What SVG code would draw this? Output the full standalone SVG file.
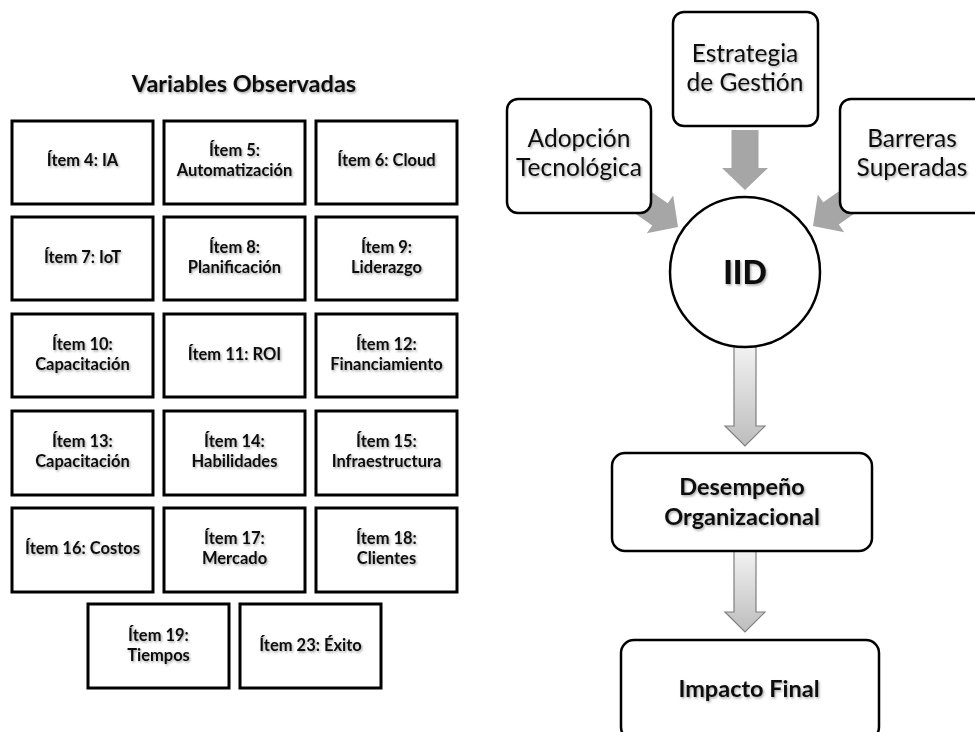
<svg xmlns="http://www.w3.org/2000/svg" width="975" height="732" viewBox="0 0 975 732">
<defs>
<filter id="sh" x="-10%" y="-30%" width="130%" height="180%">
<feDropShadow dx="1.2" dy="1.5" stdDeviation="1" flood-color="#000" flood-opacity="0.35"/>
</filter>
<linearGradient id="g" x1="0" y1="0" x2="0" y2="1">
<stop offset="0" stop-color="#f2f2f2"/>
<stop offset="1" stop-color="#bdbdbd"/>
</linearGradient>
<polygon id="fat" points="-60,-13.5 -22,-13.5 -22,-23 0,0 -22,23 -22,13.5 -60,13.5"/>
</defs>
<style>
text{font-family:Lato,"Open Sans","Liberation Sans",sans-serif;text-anchor:middle;fill:#111;filter:url(#sh)}
.item rect{fill:#fff;stroke:#000;stroke-width:3}
.item text{font-size:16.5px;font-weight:700}
.rb rect{fill:#fff;stroke:#000;stroke-width:2.5}
.reg{font-size:24.5px;font-weight:400}
.bold{font-size:23.5px;font-weight:700}
.gray{fill:#a6a6a6}
.grad{fill:url(#g);stroke:#7f7f7f;stroke-width:1.2}
</style>
<rect width="975" height="732" fill="#fff"/>

<text x="244" y="92" style="font-size:23.5px;font-weight:700">Variables Observadas</text>

<g id="connectors">
<use href="#fat" class="gray" transform="translate(745,190) rotate(90)"/>
<use href="#fat" class="gray" transform="translate(678,227) rotate(35)"/>
<use href="#fat" class="gray" transform="translate(813,226) rotate(145)"/>
<path class="grad" d="M734,346 H756 V426 H765 L745,446 L725,426 H734 Z"/>
<path class="grad" d="M734,551 H756 V612 H765 L745,632 L725,612 H734 Z"/>
</g>

<g id="item4" class="item"><rect x="12" y="121" width="141" height="83"/><text x="82.5" y="166">Ítem 4: IA</text></g>
<g id="item5" class="item"><rect x="164" y="121" width="141" height="83"/><text x="234.5" y="156">Ítem 5:</text><text x="234.5" y="176">Automatización</text></g>
<g id="item6" class="item"><rect x="316" y="121" width="141" height="83"/><text x="386.5" y="166">Ítem 6: Cloud</text></g>

<g id="item7" class="item"><rect x="12" y="217" width="141" height="83"/><text x="82.5" y="263">Ítem 7: IoT</text></g>
<g id="item8" class="item"><rect x="164" y="217" width="141" height="83"/><text x="234.5" y="253">Ítem 8:</text><text x="234.5" y="273">Planificación</text></g>
<g id="item9" class="item"><rect x="316" y="217" width="141" height="83"/><text x="386.5" y="253">Ítem 9:</text><text x="386.5" y="273">Liderazgo</text></g>

<g id="item10" class="item"><rect x="12" y="314" width="141" height="83"/><text x="82.5" y="350">Ítem 10:</text><text x="82.5" y="370">Capacitación</text></g>
<g id="item11" class="item"><rect x="164" y="314" width="141" height="83"/><text x="234.5" y="360">Ítem 11: ROI</text></g>
<g id="item12" class="item"><rect x="316" y="314" width="141" height="83"/><text x="386.5" y="350">Ítem 12:</text><text x="386.5" y="370">Financiamiento</text></g>

<g id="item13" class="item"><rect x="12" y="411" width="141" height="84"/><text x="82.5" y="447">Ítem 13:</text><text x="82.5" y="467">Capacitación</text></g>
<g id="item14" class="item"><rect x="164" y="411" width="141" height="84"/><text x="234.5" y="447">Ítem 14:</text><text x="234.5" y="467">Habilidades</text></g>
<g id="item15" class="item"><rect x="316" y="411" width="141" height="84"/><text x="386.5" y="447">Ítem 15:</text><text x="386.5" y="467">Infraestructura</text></g>

<g id="item16" class="item"><rect x="12" y="508" width="141" height="84"/><text x="82.5" y="554">Ítem 16: Costos</text></g>
<g id="item17" class="item"><rect x="164" y="508" width="141" height="84"/><text x="234.5" y="544">Ítem 17:</text><text x="234.5" y="564">Mercado</text></g>
<g id="item18" class="item"><rect x="316" y="508" width="141" height="84"/><text x="386.5" y="544">Ítem 18:</text><text x="386.5" y="564">Clientes</text></g>

<g id="item19" class="item"><rect x="88" y="604" width="141" height="84"/><text x="158.5" y="641">Ítem 19:</text><text x="158.5" y="661">Tiempos</text></g>
<g id="item23" class="item"><rect x="240" y="604" width="141" height="84"/><text x="310.5" y="651">Ítem 23: Éxito</text></g>

<g id="estrategia" class="rb"><rect x="673" y="12" width="145" height="114" rx="11"/><text class="reg" x="745" y="62">Estrategia</text><text class="reg" x="745" y="91">de Gestión</text></g>
<g id="adopcion" class="rb"><rect x="507" y="99" width="144" height="114" rx="11"/><text class="reg" x="579" y="147">Adopción</text><text class="reg" x="579" y="176">Tecnológica</text></g>
<g id="barreras" class="rb"><rect x="840" y="99" width="146" height="114" rx="11"/><text class="reg" x="912" y="147">Barreras</text><text class="reg" x="912" y="176">Superadas</text></g>

<g id="iid"><circle cx="745" cy="272" r="75" fill="#fff" stroke="#000" stroke-width="2.5"/><text x="745" y="284" style="font-size:32px;font-weight:900">IID</text></g>

<g id="desempeno" class="rb"><rect x="612" y="453" width="260" height="98" rx="13"/><text class="bold" x="742" y="495">Desempeño</text><text class="bold" x="742" y="525">Organizacional</text></g>
<g id="impacto" class="rb"><rect x="621" y="640" width="258" height="100" rx="13"/><text class="bold" x="749" y="697">Impacto Final</text></g>
</svg>
